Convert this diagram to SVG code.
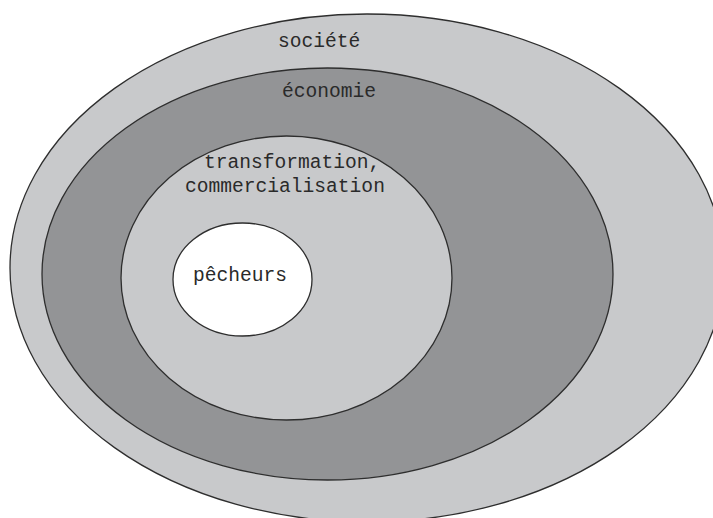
<svg xmlns="http://www.w3.org/2000/svg" width="713" height="518" viewBox="0 0 713 518">
<style>
.ring{stroke:#2e2e2e;stroke-width:1.3}
.light{fill:#c8c9cb}
.dark{fill:#939496}
.white{fill:#ffffff}
.lbl{font-family:"Liberation Mono","DejaVu Sans Mono",monospace;font-size:19.6px;fill:#2a2a2a}
</style>
<rect width="713" height="518" fill="#ffffff"/>
<g id="societe">
<ellipse class="ring light" cx="367" cy="268" rx="357" ry="254"/>
<text class="lbl" x="278" y="47">société</text>
</g>
<g id="economie">
<ellipse class="ring dark" cx="327.5" cy="274" rx="285.5" ry="206"/>
<text class="lbl" x="282" y="97">économie</text>
</g>
<g id="transformation">
<ellipse class="ring light" cx="286.5" cy="278" rx="165.5" ry="142"/>
<text class="lbl" x="204" y="168">transformation,</text>
<text class="lbl" x="185" y="192">commercialisation</text>
</g>
<g id="pecheurs">
<ellipse class="ring white" cx="242.5" cy="279.5" rx="69.5" ry="56.5"/>
<text class="lbl" x="193" y="281">pêcheurs</text>
</g>
<g id="connectors"/>
</svg>
